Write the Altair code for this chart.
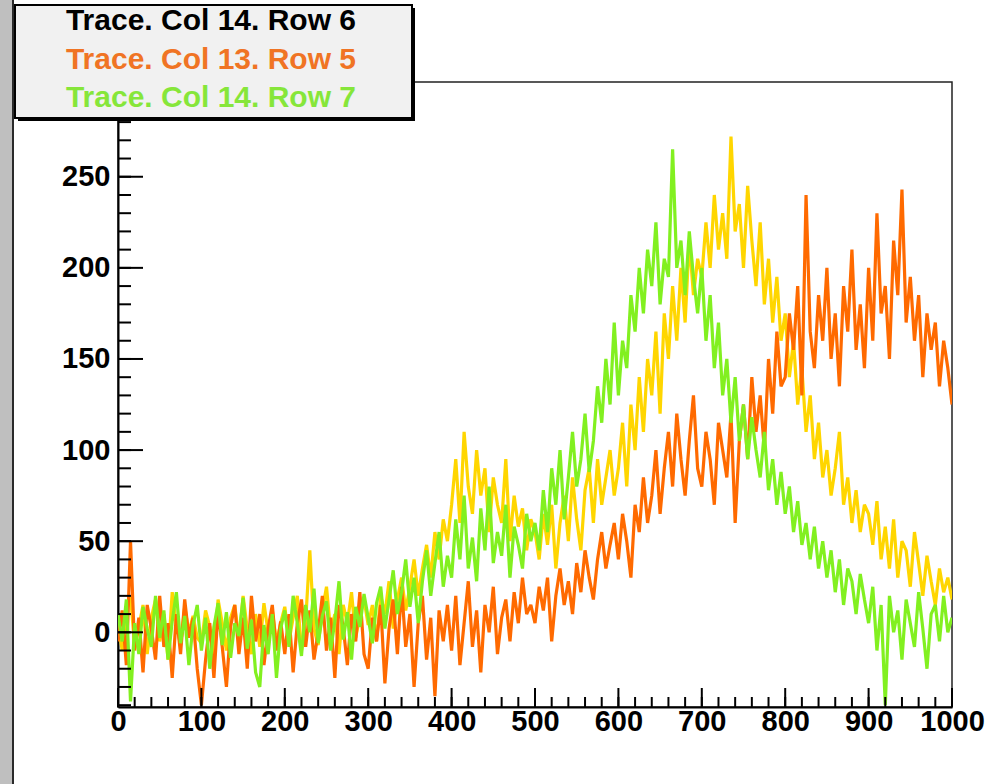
import altair as alt
import pandas as pd

# ---------------- data (one sample every 5 units) ----------------
STEP = 5

# Trace. Col 14. Row 6  (drawn yellow)
row6 = [
    5, -10, 12, 20, -8, 3, 15, -12, 8, 18, -5, 10, -15, 22, 4, -7, 14, 0, 9, -3,
    -6, 12, 3, -15, 18, 5, -10, 8, 15, -4, 20, 2, -12, 10, -8, 16, 0, 12, -6, 5,
    14, -5, 8, 20, -10, 6, 45, 2, -7, 12, 25, 0, 10, -12, 15, 5, 22, -3, 9, 18,
    4, 15, -5, 20, 10, 28, 2, 18, 30, 12, 25, 40, 20, 35, 48, 30, 55, 40, 62, 50,
    70, 95, 60, 110, 80, 65, 100, 75, 90, 55, 85, 70, 60, 95, 50, 75, 58, 68, 45, 62,
    55, 40, 65, 48, 70, 35, 60, 75, 50, 85, 62, 45, 78, 90, 60, 95, 70, 85, 100, 75,
    90, 115, 80, 125, 100, 140, 110, 150, 130, 165, 120, 175, 150, 190, 160, 200, 170, 215, 185, 205,
    195, 225, 200, 240, 210, 230, 205, 272, 220, 235, 200, 245, 215, 190, 225, 180, 205, 170, 195, 160,
    175, 140, 160, 125, 145, 110, 130, 95, 115, 85, 100, 75, 90, 110, 70, 85, 60, 78, 55, 70,
    65, 48, 72, 40, 58, 35, 62, 30, 50, 45, 25, 55, 38, 20, 42, 28, 15, 35, 22, 30,
    18,
]

# Trace. Col 13. Row 5  (drawn orange)
row5 = [
    -5, 12, -18, 50, -10, 8, -22, 15, 2, -15, 20, -8, 5, -25, 10, -12, 18, -3, 8, -20,
    -40, -15, 5, -25, 12, -8, -30, 3, 15, -12, 8, -20, 20, -5, 10, -18, 2, 15, -10, 6,
    -12, 10, -22, 5, 18, -8, 12, -15, 0, 20, -10, 8, -25, 15, 3, -18, 10, -5, 22, -12,
    -20, 8, -5, 15, -28, 2, 18, -12, 25, -8, 10, -30, 5, 20, -15, 8, -35, 12, -5, 15,
    -10, 20, -18, 5, 28, -8, 12, -22, 15, 0, 25, -12, 8, 18, -5, 22, 5, 30, 10, 15,
    5, 25, 12, 30, -5, 20, 35, 15, 28, 10, 38, 22, 45, 30, 18, 40, 55, 35, 48, 60,
    40, 65, 50, 30, 70, 55, 85, 60, 75, 100, 65, 90, 110, 80, 120, 95, 75, 105, 130, 90,
    80, 110, 95, 70, 115, 100, 85, 120, 60, 105, 125, 95, 140, 110, 130, 100, 150, 120, 165, 135,
    140, 175, 155, 190, 130, 240, 165, 145, 185, 160, 200, 150, 175, 135, 190, 165, 210, 155, 180, 145,
    200, 160, 230, 175, 190, 150, 215, 185, 243, 170, 195, 160, 185, 140, 175, 155, 170, 135, 160, 145,
    125,
]

# Trace. Col 14. Row 7  (drawn green)
row7 = [
    10, -5, 18, -38, 5, -12, 14, 2, -8, 20, -3, 12, -15, 6, 22, -6, 9, -18, 4, 15,
    -10, 8, -20, 3, 16, -7, 11, -14, 5, -2, 19, -9, 7, -22, -30, 4, -12, 10, -25, 2,
    12, -8, 20, 5, -13, 15, 0, 24, -6, 9, 17, -10, 6, 28, -4, 11, -15, 14, 3, 21,
    8, -6, 16, 25, 2, 18, 34, 10, 22, 40, 14, 30, 5, 28, 45, 20, 38, 55, 25, 42,
    30, 62, 40, 75, 35, 52, 28, 68, 45, 80, 38, 55, 42, 70, 30, 58, 48, 35, 65, 50,
    60, 45, 78, 55, 90, 70, 100, 62, 85, 110, 80, 95, 120, 88, 105, 135, 115, 150, 125, 170,
    130, 160, 145, 185, 165, 200, 175, 210, 190, 225, 180, 205, 195, 265, 200, 215, 185, 220, 195, 175,
    200, 160, 185, 145, 170, 130, 150, 115, 140, 105, 125, 95, 118, 100, 85, 110, 78, 95, 70, 88,
    65, 80, 55, 72, 48, 60, 40, 58, 35, 50, 30, 45, 22, 40, 15, 35, 28, 10, 32, 18,
    5, 25, -10, 15, -40, 20, 0, 12, -15, 18, 5, -8, 22, 2, -20, 10, 15, -5, 20, 0,
    8,
]

x_vals = [i * STEP for i in range(len(row6))]

x_major = [0, 100, 200, 300, 400, 500, 600, 700, 800, 900, 1000]
x_minor = list(range(0, 1001, 20))
y_major = [0, 50, 100, 150, 200, 250]
y_minor = list(range(-40, 301, 10))

legend_labels = ["Trace. Col 14. Row 6", "Trace. Col 13. Row 5", "Trace. Col 14. Row 7"]
legend_colors = ["#000000", "#f07424", "#86e63a"]
line_colors = ["#ffd600", "#ff6a00", "#82f020"]

# ---------------- chart ----------------
W, H = 834, 625
FONT = "Liberation Sans"

xscale = alt.Scale(domain=[0, 1000], nice=False, zero=False)
yscale = alt.Scale(domain=[-41, 302], nice=False, zero=False)


def xaxis():
    return alt.Axis(values=x_major, format="d", title=None, ticks=False, tickSize=0, grid=False,
                    labelFont=FONT, labelFontWeight="bold", labelFontSize=29,
                    labelColor="#000", labelPadding=0, domainColor="#000",
                    domainWidth=2, labelFlush=False, labelOverlap=False)


def yaxis():
    return alt.Axis(values=y_major, format="d", title=None, ticks=False, tickSize=0, grid=False,
                    labelFont=FONT, labelFontWeight="bold", labelFontSize=29,
                    labelColor="#000", labelPadding=8, domainColor="#000",
                    domainWidth=2, labelFlush=False, labelOverlap=False)


one = pd.DataFrame({"a": [0]})

layers = []

# grey strip at the left edge of the window
layers.append(alt.Chart(one).mark_rect(color="#bfbfbf").encode(
    x=alt.value(-118), x2=alt.value(-106), y=alt.value(-82), y2=alt.value(H + 77)))
layers.append(alt.Chart(one).mark_rect(color="#2a2a2a").encode(
    x=alt.value(-106), x2=alt.value(-104), y=alt.value(-82), y2=alt.value(H + 77)))

for vals, col in zip([row6, row5, row7], line_colors):
    df = pd.DataFrame({"x": x_vals, "v": vals})
    layers.append(alt.Chart(df).mark_line(color=col, strokeWidth=3.2, clip=True,
                                          strokeJoin="bevel").encode(
        x=alt.X("x:Q", scale=xscale, axis=xaxis()),
        y=alt.Y("v:Q", scale=yscale, axis=yaxis()),
    ))

# inward ticks (ROOT style)
ymin_df = pd.DataFrame({"t": y_minor})
ymaj_df = pd.DataFrame({"t": y_major})
xmin_df = pd.DataFrame({"t": x_minor})
xmaj_df = pd.DataFrame({"t": x_major})

layers.append(alt.Chart(ymin_df).mark_rule(color="#000", strokeWidth=2, clip=True).encode(
    y=alt.Y("t:Q", scale=yscale, axis=yaxis()), x=alt.value(0), x2=alt.value(13)))
layers.append(alt.Chart(ymaj_df).mark_rule(color="#000", strokeWidth=2).encode(
    y=alt.Y("t:Q", scale=yscale, axis=yaxis()), x=alt.value(0), x2=alt.value(25)))
layers.append(alt.Chart(xmin_df).mark_rule(color="#000", strokeWidth=2).encode(
    x=alt.X("t:Q", scale=xscale, axis=xaxis()), y=alt.value(H), y2=alt.value(H - 10)))
layers.append(alt.Chart(xmaj_df).mark_rule(color="#000", strokeWidth=2).encode(
    x=alt.X("t:Q", scale=xscale, axis=xaxis()), y=alt.value(H), y2=alt.value(H - 19)))

# legend box with shadow
layers.append(alt.Chart(one).mark_rect(color="#000").encode(
    x=alt.value(-100), x2=alt.value(297), y=alt.value(-74), y2=alt.value(39)))
layers.append(alt.Chart(one).mark_rect(fill="#f1f1f1", stroke="#000", strokeWidth=2).encode(
    x=alt.value(-103), x2=alt.value(294), y=alt.value(-77), y2=alt.value(36)))

for i, (lab, col) in enumerate(zip(legend_labels, legend_colors)):
    layers.append(alt.Chart(one).mark_text(
        font=FONT, fontWeight="bold", fontSize=30, color=col,
        align="center", baseline="middle").encode(
        text=alt.value(lab), x=alt.value(93), y=alt.value(-61 + 38.5 * i)))

chart = alt.layer(*layers).properties(
    width=W, height=H,
    autosize=alt.AutoSizeParams(type="none"),
    padding={"left": 118, "top": 82, "right": 48, "bottom": 77},
    background="white",
).configure_view(stroke="#222", strokeWidth=1.5)

chart.save("out.html", embed_options={"renderer": "svg", "actions": False})
